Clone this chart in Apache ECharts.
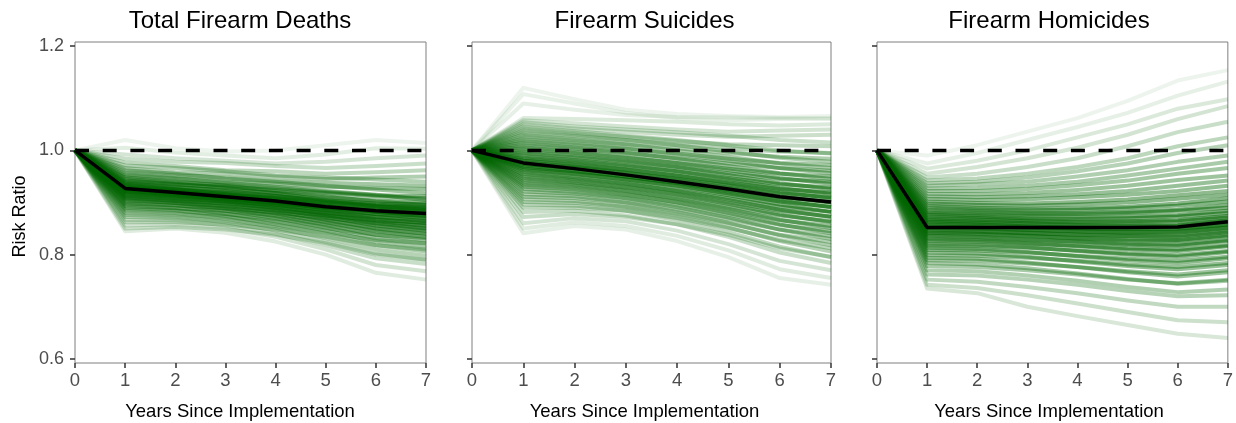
<!DOCTYPE html>
<html><head><meta charset="utf-8">
<script src="https://cdn.jsdelivr.net/npm/echarts@6/dist/echarts.min.js"></script>
<style>html,body{margin:0;padding:0;background:#fff}#c{width:1236px;height:423px}</style>
</head><body><div id="c"></div>
<script>
const years = [0, 1, 2, 3, 4, 5, 6, 7];
const panelTitles = ['Total Firearm Deaths', 'Firearm Suicides', 'Firearm Homicides'];
const xAxisTitle = 'Years Since Implementation';
const yAxisTitle = 'Risk Ratio';
const yTicks = [0.6, 0.8, 1.0, 1.2];
const nullRatio = [1, 1, 1, 1, 1, 1, 1, 1];

const totalMedian = [1, 0.927, 0.919, 0.911, 0.903, 0.892, 0.884, 0.879];
const suicideMedian = [1, 0.976, 0.965, 0.953, 0.940, 0.926, 0.911, 0.901];
const homicideMedian = [1, 0.852, 0.852, 0.852, 0.852, 0.852, 0.853, 0.863];

const totalDraws = [
[1,1.020,1.004,0.998,1.000,1.010,1.020,1.014],
[1,1.005,0.996,0.990,0.985,0.992,1.004,1.003],
[1,0.992,0.985,0.980,0.975,0.978,0.985,0.990],
[1,0.984,0.978,0.976,0.970,0.966,0.970,0.975],
[1,0.977,0.970,0.962,0.960,0.955,0.958,0.962],
[1,0.971,0.966,0.960,0.952,0.948,0.944,0.940],
[1,0.966,0.958,0.955,0.950,0.945,0.948,0.950],
[1,0.962,0.955,0.946,0.940,0.932,0.925,0.918],
[1,0.958,0.952,0.948,0.942,0.938,0.935,0.932],
[1,0.954,0.947,0.938,0.930,0.922,0.915,0.905],
[1,0.951,0.945,0.940,0.936,0.930,0.928,0.926],
[1,0.948,0.940,0.932,0.922,0.912,0.902,0.895],
[1,0.945,0.938,0.933,0.928,0.920,0.914,0.912],
[1,0.942,0.936,0.928,0.918,0.905,0.894,0.888],
[1,0.940,0.934,0.930,0.924,0.918,0.912,0.908],
[1,0.938,0.930,0.922,0.913,0.902,0.893,0.886],
[1,0.936,0.929,0.924,0.918,0.910,0.904,0.900],
[1,0.934,0.926,0.916,0.906,0.894,0.882,0.874],
[1,0.932,0.925,0.919,0.912,0.904,0.898,0.896],
[1,0.930,0.922,0.913,0.902,0.889,0.878,0.870],
[1,0.929,0.923,0.917,0.910,0.902,0.895,0.892],
[1,0.928,0.920,0.910,0.898,0.885,0.872,0.864],
[1,0.927,0.921,0.915,0.908,0.899,0.892,0.889],
[1,0.926,0.918,0.908,0.896,0.882,0.868,0.860],
[1,0.925,0.919,0.913,0.905,0.896,0.888,0.884],
[1,0.924,0.915,0.905,0.893,0.878,0.864,0.855],
[1,0.922,0.916,0.910,0.903,0.894,0.886,0.882],
[1,0.921,0.913,0.903,0.890,0.875,0.860,0.850],
[1,0.920,0.914,0.908,0.900,0.891,0.884,0.880],
[1,0.918,0.910,0.900,0.887,0.872,0.856,0.846],
[1,0.916,0.911,0.906,0.899,0.890,0.882,0.878],
[1,0.914,0.906,0.896,0.883,0.867,0.850,0.840],
[1,0.912,0.907,0.902,0.895,0.886,0.878,0.875],
[1,0.910,0.903,0.892,0.879,0.862,0.845,0.834],
[1,0.908,0.903,0.898,0.890,0.880,0.872,0.869],
[1,0.906,0.899,0.888,0.874,0.857,0.838,0.828],
[1,0.904,0.899,0.893,0.885,0.875,0.866,0.862],
[1,0.901,0.895,0.884,0.870,0.852,0.832,0.821],
[1,0.898,0.894,0.889,0.881,0.870,0.860,0.856],
[1,0.896,0.890,0.879,0.864,0.846,0.825,0.813],
[1,0.893,0.889,0.884,0.876,0.865,0.853,0.848],
[1,0.890,0.885,0.874,0.858,0.840,0.818,0.806],
[1,0.887,0.884,0.878,0.869,0.858,0.846,0.840],
[1,0.884,0.880,0.869,0.852,0.832,0.810,0.798],
[1,0.880,0.877,0.872,0.862,0.850,0.838,0.832],
[1,0.876,0.873,0.862,0.846,0.825,0.802,0.790],
[1,0.872,0.870,0.865,0.855,0.842,0.828,0.822],
[1,0.867,0.866,0.856,0.840,0.818,0.793,0.782],
[1,0.862,0.862,0.858,0.848,0.834,0.818,0.810],
[1,0.856,0.858,0.850,0.834,0.810,0.780,0.768],
[1,0.850,0.853,0.848,0.838,0.822,0.800,0.790],
[1,0.845,0.850,0.842,0.825,0.800,0.765,0.752]
];

const suicideDraws = [
[1,1.120,1.098,1.078,1.070,1.066,1.064,1.066],
[1,1.108,1.090,1.072,1.062,1.058,1.060,1.062],
[1,1.090,1.078,1.068,1.064,1.063,1.062,1.060],
[1,1.062,1.060,1.058,1.055,1.050,1.048,1.050],
[1,1.058,1.052,1.046,1.040,1.036,1.038,1.040],
[1,1.054,1.046,1.040,1.035,1.028,1.020,1.015],
[1,1.050,1.042,1.036,1.030,1.026,1.028,1.030],
[1,1.046,1.037,1.028,1.020,1.010,1.000,0.994],
[1,1.042,1.034,1.026,1.018,1.012,1.010,1.008],
[1,1.038,1.030,1.020,1.010,0.998,0.986,0.978],
[1,1.034,1.027,1.020,1.012,1.004,0.998,0.995],
[1,1.030,1.022,1.012,1.000,0.988,0.975,0.966],
[1,1.026,1.019,1.012,1.004,0.995,0.988,0.984],
[1,1.022,1.014,1.004,0.992,0.980,0.966,0.956],
[1,1.018,1.011,1.003,0.994,0.984,0.976,0.972],
[1,1.014,1.006,0.996,0.984,0.970,0.956,0.945],
[1,1.010,1.003,0.995,0.985,0.975,0.966,0.961],
[1,1.006,0.998,0.988,0.976,0.962,0.947,0.936],
[1,1.002,0.995,0.986,0.976,0.965,0.955,0.950],
[1,0.998,0.990,0.980,0.968,0.953,0.937,0.926],
[1,0.994,0.987,0.978,0.968,0.956,0.945,0.940],
[1,0.990,0.982,0.972,0.960,0.945,0.928,0.917],
[1,0.986,0.979,0.970,0.960,0.947,0.935,0.929],
[1,0.983,0.975,0.964,0.952,0.937,0.920,0.908],
[1,0.980,0.972,0.963,0.952,0.939,0.926,0.919],
[1,0.977,0.968,0.957,0.944,0.929,0.912,0.900],
[1,0.974,0.966,0.956,0.945,0.932,0.918,0.910],
[1,0.971,0.962,0.950,0.937,0.921,0.904,0.891],
[1,0.968,0.960,0.950,0.938,0.924,0.910,0.901],
[1,0.965,0.956,0.944,0.930,0.914,0.896,0.882],
[1,0.962,0.954,0.944,0.932,0.917,0.902,0.892],
[1,0.958,0.949,0.937,0.922,0.905,0.886,0.872],
[1,0.954,0.946,0.936,0.923,0.908,0.892,0.882],
[1,0.950,0.942,0.930,0.915,0.897,0.877,0.862],
[1,0.946,0.939,0.929,0.916,0.900,0.884,0.873],
[1,0.942,0.935,0.923,0.907,0.888,0.867,0.851],
[1,0.938,0.932,0.922,0.908,0.892,0.875,0.864],
[1,0.934,0.928,0.916,0.900,0.880,0.858,0.841],
[1,0.930,0.925,0.915,0.901,0.884,0.866,0.855],
[1,0.926,0.920,0.908,0.891,0.871,0.848,0.830],
[1,0.921,0.917,0.908,0.894,0.876,0.857,0.845],
[1,0.916,0.912,0.900,0.882,0.861,0.837,0.818],
[1,0.911,0.908,0.900,0.886,0.868,0.848,0.835],
[1,0.906,0.903,0.892,0.874,0.852,0.826,0.806],
[1,0.901,0.899,0.892,0.878,0.860,0.838,0.824],
[1,0.896,0.894,0.884,0.866,0.843,0.815,0.795],
[1,0.890,0.890,0.884,0.870,0.851,0.828,0.812],
[1,0.882,0.884,0.875,0.858,0.834,0.804,0.784],
[1,0.872,0.878,0.872,0.858,0.838,0.812,0.796],
[1,0.860,0.870,0.864,0.846,0.820,0.788,0.770],
[1,0.850,0.862,0.855,0.836,0.808,0.772,0.755],
[1,0.841,0.855,0.848,0.826,0.795,0.755,0.742]
];

const homicideDraws = [
[1,0.990,1.010,1.036,1.062,1.095,1.134,1.154],
[1,0.975,0.995,1.020,1.045,1.072,1.105,1.132],
[1,0.965,0.980,1.000,1.025,1.050,1.080,1.098],
[1,0.955,0.968,0.985,1.005,1.030,1.060,1.085],
[1,0.948,0.955,0.968,0.985,1.008,1.035,1.055],
[1,0.942,0.946,0.955,0.968,0.985,1.008,1.025],
[1,0.937,0.940,0.948,0.960,0.975,0.995,1.010],
[1,0.932,0.935,0.940,0.950,0.962,0.978,0.990],
[1,0.927,0.928,0.932,0.940,0.952,0.965,0.978],
[1,0.922,0.922,0.926,0.933,0.942,0.955,0.966],
[1,0.917,0.916,0.918,0.924,0.932,0.943,0.952],
[1,0.912,0.910,0.912,0.916,0.922,0.932,0.942],
[1,0.907,0.905,0.906,0.910,0.915,0.922,0.932],
[1,0.902,0.899,0.898,0.901,0.906,0.914,0.922],
[1,0.898,0.895,0.894,0.896,0.900,0.907,0.915],
[1,0.894,0.890,0.888,0.889,0.892,0.898,0.908],
[1,0.890,0.887,0.885,0.886,0.889,0.894,0.902],
[1,0.886,0.883,0.880,0.880,0.882,0.886,0.895],
[1,0.882,0.880,0.878,0.878,0.880,0.884,0.890],
[1,0.879,0.876,0.873,0.872,0.873,0.876,0.884],
[1,0.876,0.873,0.870,0.869,0.870,0.873,0.880],
[1,0.872,0.870,0.866,0.864,0.864,0.866,0.874],
[1,0.869,0.867,0.864,0.862,0.862,0.864,0.871],
[1,0.866,0.863,0.860,0.857,0.856,0.857,0.866],
[1,0.863,0.861,0.858,0.856,0.855,0.856,0.864],
[1,0.860,0.858,0.854,0.851,0.849,0.849,0.858],
[1,0.857,0.855,0.852,0.850,0.849,0.850,0.858],
[1,0.854,0.852,0.848,0.845,0.842,0.842,0.851],
[1,0.851,0.850,0.847,0.845,0.843,0.844,0.852],
[1,0.848,0.846,0.842,0.838,0.835,0.834,0.843],
[1,0.845,0.844,0.841,0.838,0.836,0.836,0.845],
[1,0.842,0.840,0.836,0.831,0.827,0.826,0.835],
[1,0.839,0.838,0.835,0.832,0.829,0.828,0.837],
[1,0.836,0.834,0.829,0.824,0.819,0.817,0.826],
[1,0.832,0.831,0.828,0.825,0.821,0.819,0.828],
[1,0.829,0.827,0.822,0.816,0.810,0.807,0.816],
[1,0.825,0.824,0.821,0.817,0.812,0.810,0.818],
[1,0.821,0.819,0.814,0.807,0.800,0.796,0.805],
[1,0.817,0.816,0.813,0.808,0.802,0.799,0.807],
[1,0.813,0.811,0.805,0.797,0.789,0.784,0.793],
[1,0.809,0.808,0.804,0.798,0.792,0.788,0.796],
[1,0.804,0.802,0.796,0.787,0.778,0.772,0.780],
[1,0.799,0.798,0.794,0.788,0.781,0.776,0.784],
[1,0.794,0.792,0.785,0.776,0.766,0.758,0.766],
[1,0.789,0.788,0.783,0.776,0.768,0.762,0.770],
[1,0.784,0.781,0.774,0.764,0.753,0.744,0.750],
[1,0.778,0.776,0.770,0.762,0.752,0.745,0.752],
[1,0.770,0.768,0.760,0.750,0.738,0.728,0.733],
[1,0.762,0.760,0.752,0.742,0.730,0.720,0.722],
[1,0.752,0.748,0.738,0.726,0.712,0.700,0.700],
[1,0.742,0.736,0.722,0.706,0.690,0.674,0.670],
[1,0.735,0.726,0.700,0.682,0.665,0.648,0.640]
];

const panels = [
  { draws: totalDraws, median: totalMedian },
  { draws: suicideDraws, median: suicideMedian },
  { draws: homicideDraws, median: homicideMedian }
];

const FONT = '"Liberation Sans", Arial, Helvetica, sans-serif';
const gridRects = [
  { left: 75, top: 42, width: 351, height: 321 },
  { left: 472, top: 42, width: 359, height: 321 },
  { left: 877, top: 42, width: 351, height: 321 }
];
const textCenters = [240, 644.5, 1049];

const toPts = arr => years.map((x, i) => [x, arr[i]]);

const grid = gridRects.map(r => Object.assign({ show: true, borderColor: '#7f7f7f', borderWidth: 1, backgroundColor: '#fff', containLabel: false }, r));

const xAxis = gridRects.map((r, i) => ({
  type: 'value', gridIndex: i, min: 0, max: 7, interval: 1,
  axisLine: { show: false },
  axisTick: { show: true, length: 5, lineStyle: { color: '#333', width: 1.5 } },
  axisLabel: { color: '#4d4d4d', fontSize: 18.5, fontFamily: FONT, margin: 8 },
  splitLine: { show: false }
}));

const yAxis = gridRects.map((r, i) => ({
  type: 'value', gridIndex: i, min: 0.592, max: 1.208,
  axisLine: { show: false },
  axisTick: { show: true, length: 5, customValues: yTicks, lineStyle: { color: '#333', width: 1.5 } },
  axisLabel: { show: i === 0, customValues: yTicks, color: '#4d4d4d', fontSize: 18, fontFamily: FONT, margin: 11,
    formatter: v => v.toFixed(1) },
  splitLine: { show: false }
}));

// opacity of each draw: lines far from the median are fainter (mimics the density of many draws)
function drawOpacities(draws, median) {
  const dev = draws.map(d => d.reduce((s, v, k) => s + Math.abs(v - median[k]), 0) / d.length);
  const maxDev = Math.max(...dev);
  return dev.map(v => 0.07 + 0.52 * Math.pow(1 - v / maxDev, 1.2));
}

const series = [];
panels.forEach((p, i) => {
  const op = drawOpacities(p.draws, p.median);
  p.draws.forEach((d, j) => {
    series.push({
      type: 'line', xAxisIndex: i, yAxisIndex: i, data: toPts(d),
      showSymbol: false, silent: true, z: 2, animation: false,
      lineStyle: { color: 'rgb(0,100,0)', opacity: op[j], width: 4, join: 'round' }
    });
  });
  series.push({
    type: 'line', xAxisIndex: i, yAxisIndex: i, data: toPts(nullRatio),
    showSymbol: false, silent: true, z: 3, animation: false,
    lineStyle: { color: '#000', width: 3.5, type: [14, 13.7] }
  });
  series.push({
    type: 'line', xAxisIndex: i, yAxisIndex: i, data: toPts(p.median),
    showSymbol: false, silent: true, z: 4, animation: false,
    lineStyle: { color: '#000', width: 3.5 }
  });
});

const graphic = [];
panelTitles.forEach((t, i) => {
  graphic.push({ type: 'text', x: textCenters[i], y: 21, silent: true,
    style: { text: t, fill: '#000', font: '24px ' + FONT, textAlign: 'center', textVerticalAlign: 'middle' } });
  graphic.push({ type: 'text', x: textCenters[i], y: 411.5, silent: true,
    style: { text: xAxisTitle, fill: '#000', font: '18.5px ' + FONT, textAlign: 'center', textVerticalAlign: 'middle' } });
});
graphic.push({ type: 'text', x: 20, y: 216.5, rotation: Math.PI / 2, silent: true,
  style: { text: yAxisTitle, fill: '#000', font: '18px ' + FONT, textAlign: 'center', textVerticalAlign: 'middle' } });

const chart = echarts.init(document.getElementById('c'), null, { renderer: 'canvas' });
chart.setOption({
  animation: false,
  backgroundColor: '#fff',
  grid, xAxis, yAxis, series, graphic
});
</script>
</body></html>
